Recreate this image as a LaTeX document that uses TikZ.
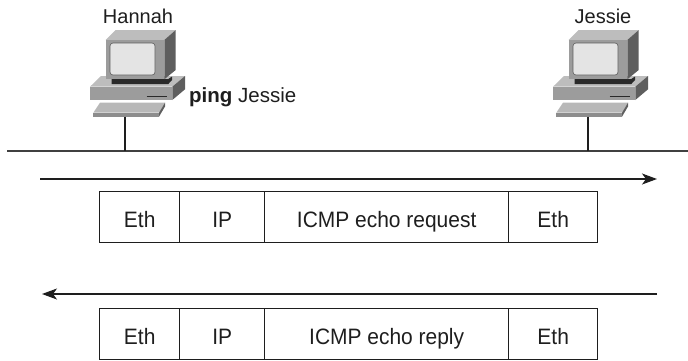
\documentclass[tikz,border=0pt]{standalone}
\usepackage{fontspec}
\setmainfont{Liberation Sans}
\usetikzlibrary{arrows.meta}

\definecolor{ink}{HTML}{1E1E1E}
\definecolor{pcfront}{HTML}{9C9C9C}
\definecolor{pctop}{HTML}{BDBDBD}
\definecolor{pcside}{HTML}{5E5E5E}
\definecolor{pcscreen}{HTML}{E4E4E4}
\definecolor{pcdark}{HTML}{2A2A2A}

% slightly condensed setting for the frame field labels
\newcommand{\fieldtext}[1]{\scalebox{0.94}[1]{#1}}

\tikzset{
  field/.style={draw=ink, line width=1.35pt, minimum height=51pt, inner sep=0pt,
                text height=21.4pt, text depth=0pt,
                anchor=west, font=\fontsize{22.3}{26}\selectfont, text=ink},
  hostlabel/.style={font=\fontsize{20}{23}\selectfont, text=ink, inner sep=0pt},
  flow/.style={draw=ink, line width=1.2pt, -{Stealth[length=15pt,width=11pt,inset=4pt]}},
  wire/.style={draw=ink!85, line width=1.4pt},
  pc/.pic={
    % base unit
    \fill[pctop] (-35,86.7) -- (47.3,86.7) -- (60,76) -- (-24,76) -- cycle;
    \fill[pcfront] (-35,86.7) rectangle (47.3,100);
    \fill[pcside] (47.3,86.7) -- (60,76) -- (60,89.3) -- (47.3,100) -- cycle;
    \draw[pcdark, line width=1.3pt] (21.7,96.7) -- (41.7,96.7);
    % monitor foot
    \fill[pcdark] (-13.3,79) -- (43.3,79) -- (47,76.5) -- (47,80) -- (43.3,84) -- (-13.3,84) -- cycle;
    % monitor
    \fill[pctop] (-19.3,40) -- (39.3,40) -- (50.7,30) -- (-9.3,30) -- cycle;
    \fill[pcfront] (-19.3,40) rectangle (39.3,79.3);
    \fill[pcside] (39.3,40) -- (50.7,30) -- (50.7,70) -- (39.3,79.3) -- cycle;
    \fill[pcscreen, draw=pcside, line width=0.6pt, rounded corners=3pt] (-15,43) rectangle (30,75);
    % keyboard
    \fill[pctop!85!pcfront] (-25,102.7) -- (40,102.7) -- (34,112.7) -- (-31.7,112.7) -- cycle;
    \fill[pcfront!90!black] (-31.7,112.7) rectangle (34,116.7);
    \fill[pcside] (34,112.7) -- (40,102.7) -- (40,106.5) -- (34,116.7) -- cycle;
  }
}

\begin{document}
\begin{tikzpicture}[x=1pt,y=-1pt]
  \useasboundingbox (0,0) rectangle (688,360);

  % hosts
  \pic at (125,0) {pc};
  \pic at (588,0) {pc};
  \coordinate (hannahpc) at (125,116.7);
  \coordinate (jessiepc) at (588,116.7);
  \node[hostlabel, anchor=base] (hannah) at (138,23.3) {Hannah};
  \node[hostlabel, anchor=base] (jessie) at (603,23.3) {Jessie};
  \node[hostlabel, anchor=base west, font=\fontsize{20.5}{23}\selectfont] (cmd) at (189,102)
       {\textbf{ping} Jessie};

  % LAN segment and drops
  \coordinate (lanL) at (7,151);
  \coordinate (lanR) at (688,151);
  \coordinate (lanA) at (125,151);
  \coordinate (lanB) at (588,151);
  \draw[wire] (lanL) -- (lanR);
  \draw[ink, line width=1.1pt] (hannahpc) -- (lanA);
  \draw[ink, line width=1.1pt] (jessiepc) -- (lanB);

  % request direction
  \coordinate (reqS) at (40,179);
  \coordinate (reqE) at (657,179);
  \draw[flow] (reqS) -- (reqE);

  \node[field, minimum width=80pt]  (q1) at (99,217)  {\fieldtext{Eth}};
  \node[field, minimum width=85pt]  (q2) at (179,217) {\fieldtext{IP}};
  \node[field, minimum width=244pt] (q3) at (264,217) {\fieldtext{ICMP echo request}};
  \node[field, minimum width=89pt]  (q4) at (508,217) {\fieldtext{Eth}};

  % reply direction
  \coordinate (repS) at (657,294);
  \coordinate (repE) at (42,294);
  \draw[flow] (repS) -- (repE);

  \node[field, minimum width=80pt]  (p1) at (99,334)  {\fieldtext{Eth}};
  \node[field, minimum width=85pt]  (p2) at (179,334) {\fieldtext{IP}};
  \node[field, minimum width=244pt] (p3) at (264,334) {\fieldtext{ICMP echo reply}};
  \node[field, minimum width=89pt]  (p4) at (508,334) {\fieldtext{Eth}};
\end{tikzpicture}
\end{document}
